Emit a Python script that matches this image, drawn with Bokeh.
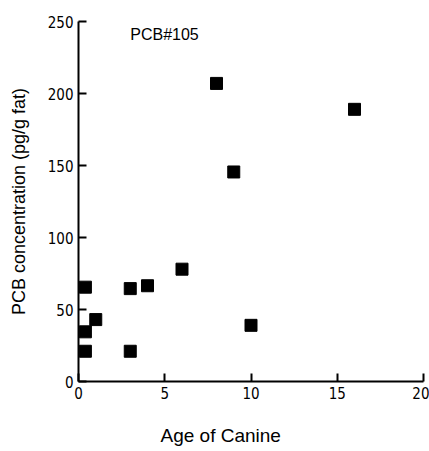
from bokeh.plotting import figure
from bokeh.models import Range1d, Label, Title, FixedTicker
from bokeh.embed import file_html
from bokeh.resources import INLINE

age = [0.4, 0.4, 0.4, 1.0, 3.0, 3.0, 4.0, 6.0, 8.0, 9.0, 10.0, 16.0]
pcb = [65.5, 34.5, 21.0, 43.0, 21.0, 64.5, 66.5, 78.0, 207.0, 145.5, 39.0, 189.0]
x_ticks = [0, 5, 10, 15, 20]
y_ticks = [0, 50, 100, 150, 200, 250]
title_text = "PCB#105"
x_label = "Age of Canine"
y_label = "PCB concentration (pg/g fat)"

MAIN_FONT = "'Liberation Sans', Arial, sans-serif"
TICK_FONT = "'DejaVu Sans Condensed', 'Liberation Sans', sans-serif"

p = figure(width=429, height=451, output_backend="svg", toolbar_location=None,
           x_range=Range1d(0, 20), y_range=Range1d(0, 250),
           min_border_left=78, min_border_right=6, min_border_top=21, min_border_bottom=70)
p.outline_line_color = None
p.grid.visible = False
p.background_fill_color = "white"
p.border_fill_color = "white"

p.scatter(age, pcb, marker="square", size=12, fill_color="black", line_color="black")

for ax in (p.xaxis[0], p.yaxis[0]):
    ax.axis_line_width = 2
    ax.axis_line_color = "black"
    ax.major_tick_in = 8
    ax.major_tick_out = 0
    ax.major_tick_line_width = 2
    ax.minor_tick_line_color = None
    ax.major_label_text_font = TICK_FONT
    ax.major_label_text_font_size = "15px"
    ax.major_label_text_color = "black"

p.xaxis[0].ticker = FixedTicker(ticks=x_ticks)
p.yaxis[0].ticker = FixedTicker(ticks=y_ticks)
p.xaxis[0].major_label_standoff = 5
p.yaxis[0].major_label_standoff = 5

# spacer so that the x-axis title sits lower, as in the reference
p.xaxis[0].axis_label = " "
p.xaxis[0].axis_label_text_font_size = "1px"
p.xaxis[0].axis_label_standoff = 17

p.yaxis[0].axis_label = y_label
p.yaxis[0].axis_label_text_font = MAIN_FONT
p.yaxis[0].axis_label_text_font_size = "18px"
p.yaxis[0].axis_label_text_font_style = "normal"
p.yaxis[0].axis_label_text_color = "black"
p.yaxis[0].axis_label_standoff = 16

t = Title(text=x_label, align="left", offset=82,
          text_font=MAIN_FONT, text_font_size="19px", text_font_style="normal",
          text_color="black", standoff=0)
p.add_layout(t, "below")

p.add_layout(Label(x=3.0, y=241, text=title_text, text_font=MAIN_FONT,
                   text_font_size="16px", text_color="black", text_baseline="alphabetic"))

open("out.html", "w").write(file_html(p, INLINE))
